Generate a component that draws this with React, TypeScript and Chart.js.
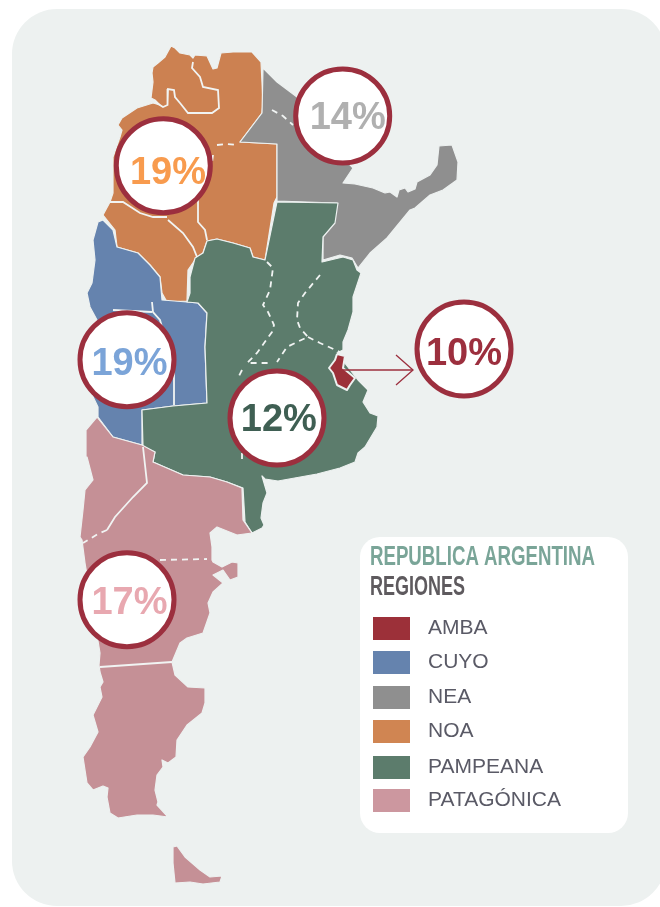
import React, { useEffect, useRef } from "react";
import { Chart, registerables } from "chart.js";

Chart.register(...registerables);

type P = [number, number];

const noaOutline: P[] = [[171,46],[175,48],[180,53],[190,55],[193,58],[195,55],[207,56],[213,69],[217,68],[221,53],[233,52],[252,52],[261,62],[263,103],[262,113],[240,142],[277,144],[277,197],[274,203],[265,260],[253,257],[250,248],[233,243],[217,239],[207,241],[203,253],[197,257],[188,270],[187,301],[167,302],[162,293],[160,277],[150,265],[138,253],[117,247],[115,230],[103,215],[110,202],[113,193],[113,157],[120,137],[122,130],[118,125],[122,118],[137,108],[153,103],[160,105],[155,100],[151,98],[153,82],[152,73],[153,67],[158,63],[165,57]];
const neaOutline: P[] = [[263,68],[277,82],[297,97],[317,130],[353,168],[343,183],[355,184],[373,188],[385,193],[390,192],[397,197],[399,190],[405,188],[408,192],[415,189],[417,182],[430,175],[437,165],[439,146],[452,145],[458,162],[457,180],[443,190],[430,195],[415,208],[410,210],[387,238],[370,253],[358,268],[352,258],[340,255],[323,260],[323,237],[333,223],[337,203],[277,201],[277,144],[240,142],[262,113]];
const pampeanaOutline: P[] = [[277,202],[338,203],[335,223],[323,237],[322,262],[343,257],[353,260],[357,270],[361,273],[353,297],[353,312],[348,330],[343,342],[343,350],[337,353],[358,380],[368,390],[363,402],[370,413],[378,416],[377,427],[365,447],[358,453],[355,462],[340,468],[317,474],[278,481],[265,479],[262,476],[267,493],[263,503],[261,518],[264,525],[262,528],[252,533],[245,522],[243,488],[227,482],[210,477],[183,475],[153,462],[155,452],[143,447],[142,410],[173,406],[207,403],[205,347],[207,313],[198,303],[187,302],[190,293],[190,277],[195,258],[203,253],[207,241],[217,239],[233,243],[250,248],[253,257],[265,260]];
const cuyoOutline: P[] = [[103,220],[113,230],[117,247],[138,253],[150,265],[160,277],[162,300],[187,302],[198,303],[207,313],[205,347],[207,403],[173,406],[142,410],[142,445],[113,437],[98,417],[98,407],[85,380],[92,330],[97,320],[90,307],[87,293],[92,283],[95,260],[93,240],[98,222]];
const patagoniaOutline: P[] = [[97,417],[113,437],[142,445],[155,452],[153,462],[183,475],[210,477],[227,482],[242,488],[243,520],[252,533],[237,535],[217,527],[210,533],[212,547],[212,560],[213,562],[222,567],[232,562],[238,563],[238,577],[230,580],[223,570],[213,575],[223,583],[213,592],[208,603],[210,613],[203,633],[187,638],[180,643],[172,662],[175,675],[188,687],[205,688],[205,703],[202,713],[187,725],[177,740],[176,757],[168,763],[162,760],[163,767],[157,775],[155,790],[158,802],[157,805],[168,817],[153,815],[137,815],[118,818],[110,813],[107,797],[108,788],[103,786],[93,790],[87,783],[83,757],[90,747],[98,732],[93,715],[102,697],[100,687],[103,682],[100,672],[99,665],[100,653],[85,563],[82,540],[80,537],[83,510],[85,490],[93,480],[87,457],[86,430]];
const tierraDelFuego: P[] = [[173,847],[177,846],[185,857],[200,870],[210,877],[222,876],[220,882],[203,884],[190,882],[175,883],[173,863]];
const ambaOutline: P[] = [[337,354],[345,356],[343,368],[355,378],[350,385],[347,390],[337,385],[333,373],[329,368],[335,360]];

const solidBorders: P[][] = [
  [[193,62],[192,68],[200,77],[203,87],[218,90],[219,108],[212,113],[188,113],[180,103],[175,97],[174,90],[168,89],[167,95],[168,105],[163,107],[155,102]],
  [[110,202],[123,202],[140,213],[153,217],[167,217]],
  [[168,220],[183,233],[193,247],[197,257]],
  [[198,200],[198,222],[205,230],[207,240]],
  [[152,302],[153,312],[160,320],[174,370],[174,405]],
  [[113,310],[152,312]],
  [[143,447],[147,483],[133,497],[115,517],[107,530]],
  [[100,667],[172,662]],
];
const dashedBorders: P[][] = [
  [[217,145],[227,144],[237,145]],
  [[213,155],[212,163]],
  [[272,110],[283,116],[293,125]],
  [[267,262],[273,268],[270,290],[263,305],[268,312],[274,325],[272,332],[257,353],[247,363],[272,363]],
  [[320,275],[305,293],[298,303],[297,320],[300,328],[308,337],[297,342],[287,347],[277,362]],
  [[308,337],[320,343],[340,352]],
  [[242,370],[238,378]],
  [[242,453],[242,460]],
  [[107,530],[98,534],[83,543]],
  [[160,560],[207,559]],
];

const percentLabels = ["14%", "19%", "19%", "12%", "10%", "17%"];
const circleCentres: P[] = [[342.7,116],[163.3,165.8],[127,359.7],[277,418],[464,349],[127,599.7]];
const labelCentres: P[] = [[347.7,115],[168,170],[129.5,361.7],[278.8,417.7],[464,351.7],[129.5,600.7]];
const labelColours = ["#b0b0b0", "#f89b4e", "#7ba4d8", "#3f5f53", "#9c2f3e", "#e8a8b0"];
const arrowShaft: P[] = [[343,370],[413,370]];
const arrowHead: P[] = [[396,355],[413,370],[396,385]];

const legendTitle = "REPUBLICA ARGENTINA";
const legendSubtitle = "REGIONES";
const legendNames = ["AMBA", "CUYO", "NEA", "NOA", "PAMPEANA", "PATAGÓNICA"];
const legendColours = ["#9c3039", "#6583ae", "#8f8f8f", "#d08552", "#5c7c6c", "#cc979f"];
const legendTops = [617, 651, 686, 720, 756, 789];

const PANEL = "#edf1f0";
const CRIMSON = "#9c2f3e";

const toPoints = (pts: P[]) => pts.map(([x, y]) => ({ x, y }));
const closed = (pts: P[]) => toPoints([...pts, pts[0]]);

const region = (label: string, pts: P[], color: string, width = 1.2) => ({
  label, data: closed(pts), showLine: true, fill: "shape", backgroundColor: color,
  borderColor: PANEL, borderWidth: width, pointRadius: 0, tension: 0, borderJoinStyle: "round",
});
const border = (label: string, pts: P[], dash: number[] = []) => ({
  label, data: toPoints(pts), showLine: true, fill: false, borderColor: "#f1f4f3",
  borderWidth: 1.8, borderDash: dash, pointRadius: 0, tension: 0,
});

const artwork = {
  id: "artwork",
  beforeDatasetsDraw(chart: Chart) {
    const { ctx } = chart;
    ctx.save();
    ctx.fillStyle = PANEL;
    ctx.beginPath();
    (ctx as any).roundRect(12, 9, 654, 897, 45);
    ctx.fill();
    ctx.restore();
  },
  afterDatasetsDraw(chart: Chart) {
    const { ctx } = chart;
    const sx = chart.scales.x, sy = chart.scales.y;
    ctx.save();
    ctx.font = "bold 38px 'Liberation Sans'";
    ctx.textAlign = "center";
    ctx.textBaseline = "alphabetic";
    percentLabels.forEach((t, i) => {
      ctx.fillStyle = labelColours[i];
      ctx.fillText(t, sx.getPixelForValue(labelCentres[i][0]), sy.getPixelForValue(labelCentres[i][1]) + 13.5);
    });
    ctx.fillStyle = "#ffffff";
    ctx.beginPath();
    (ctx as any).roundRect(360, 537, 268, 296, 20);
    ctx.fill();
    ctx.textAlign = "left";
    ctx.font = "bold 27px 'Liberation Sans'";
    ctx.fillStyle = "#7aa598";
    ctx.fillText(legendTitle, 370, 565, 225);
    ctx.fillStyle = "#5e5a5e";
    ctx.fillText(legendSubtitle, 370, 595, 95);
    ctx.font = "21px 'Liberation Sans'";
    legendNames.forEach((n, i) => {
      ctx.fillStyle = legendColours[i];
      ctx.fillRect(373, legendTops[i], 37, 23);
      ctx.fillStyle = "#5a5a66";
      ctx.fillText(n, 428, legendTops[i] + 17);
    });
    ctx.restore();
  },
};

export default function App() {
  const ref = useRef<HTMLCanvasElement>(null);
  useEffect(() => {
    document.body.style.margin = "0";
    const chart = new Chart(ref.current!, {
      type: "scatter",
      data: {
        datasets: [
          {
            label: "Percent", data: toPoints(circleCentres), pointRadius: 47, pointBorderWidth: 5,
            pointBackgroundColor: "#ffffff", pointBorderColor: CRIMSON, showLine: false,
          },
          { label: "Arrow", data: toPoints(arrowShaft), showLine: true, borderColor: CRIMSON, borderWidth: 1.3, pointRadius: 0 },
          { label: "Arrow head", data: toPoints(arrowHead), showLine: true, borderColor: CRIMSON, borderWidth: 1.3, pointRadius: 0 },
          region("AMBA", ambaOutline, legendColours[0], 2),
          ...dashedBorders.map((b, i) => border(`dashed ${i}`, b, [6, 5])),
          ...solidBorders.map((b, i) => border(`border ${i}`, b)),
          region("PATAGÓNICA", patagoniaOutline, "#c59096"),
          region("Tierra del Fuego", tierraDelFuego, "#c59096"),
          region("PAMPEANA", pampeanaOutline, legendColours[4]),
          region("NEA", neaOutline, legendColours[2]),
          region("CUYO", cuyoOutline, legendColours[1]),
          region("NOA", noaOutline, "#cc8151"),
        ] as any,
      },
      options: {
        responsive: false,
        animation: false,
        events: [],
        layout: { padding: 0, autoPadding: false },
        plugins: { legend: { display: false }, tooltip: { enabled: false } },
        scales: {
          x: { type: "linear", min: 0, max: 660, display: false },
          y: { type: "linear", min: 0, max: 907, reverse: true, display: false },
        },
      },
      plugins: [artwork],
    });
    return () => chart.destroy();
  }, []);
  return <canvas ref={ref} width={660} height={907} style={{ display: "block" }} />;
}
